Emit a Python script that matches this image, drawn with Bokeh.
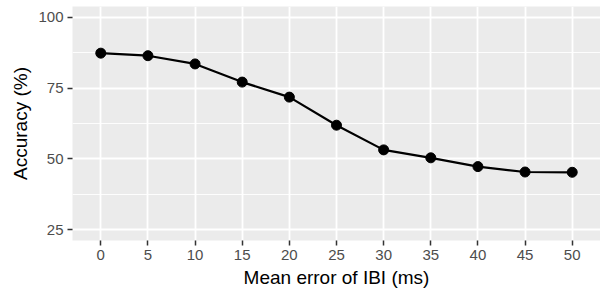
from bokeh.plotting import figure
from bokeh.models import FixedTicker, Range1d
from bokeh.embed import file_html
from bokeh.resources import INLINE

mean_error = [0, 5, 10, 15, 20, 25, 30, 35, 40, 45, 50]
accuracy = [87.3, 86.4, 83.5, 77.1, 71.8, 61.9, 53.2, 50.4, 47.3, 45.4, 45.3]
x_ticks = [0, 5, 10, 15, 20, 25, 30, 35, 40, 45, 50]
y_ticks = [25, 50, 75, 100]
y_minor = [37.5, 62.5, 87.5]

p = figure(width=600, height=290, output_backend="svg", toolbar_location=None,
           x_range=Range1d(-3, 53), y_range=Range1d(21.25, 103.75),
           min_border_left=72, min_border_right=0, min_border_top=6, min_border_bottom=49)
p.background_fill_color = "#EBEBEB"
p.border_fill_color = "white"
p.outline_line_color = None

p.line(mean_error, accuracy, line_color="black", line_width=2.2)
p.scatter(mean_error, accuracy, size=10, fill_color="black", line_color="black")

p.xaxis.ticker = FixedTicker(ticks=x_ticks)
p.yaxis.ticker = FixedTicker(ticks=y_ticks, minor_ticks=y_minor)

p.xgrid.grid_line_color = "white"
p.xgrid.grid_line_width = 1.8
p.ygrid.grid_line_color = "white"
p.ygrid.grid_line_width = 1.8
p.ygrid.minor_grid_line_color = "white"
p.ygrid.minor_grid_line_width = 0.9

for ax in (p.xaxis, p.yaxis):
    ax.axis_line_color = None
    ax.major_tick_line_color = "#333333"
    ax.major_tick_line_width = 1.5
    ax.major_tick_in = 0
    ax.major_tick_out = 5
    ax.minor_tick_line_color = None
    ax.major_label_text_color = "#4D4D4D"
    ax.major_label_text_font = "Liberation Sans"
    ax.major_label_text_font_size = "15px"
    ax.major_label_standoff = 4
    ax.axis_label_text_font = "Liberation Sans"
    ax.axis_label_text_font_size = "19px"
    ax.axis_label_text_font_style = "normal"
    ax.axis_label_text_color = "black"
    ax.axis_label_standoff = 4

p.xaxis.axis_label = "Mean error of IBI (ms)"
p.yaxis.axis_label = "Accuracy (%)"

open("out.html", "w").write(file_html(p, INLINE))
